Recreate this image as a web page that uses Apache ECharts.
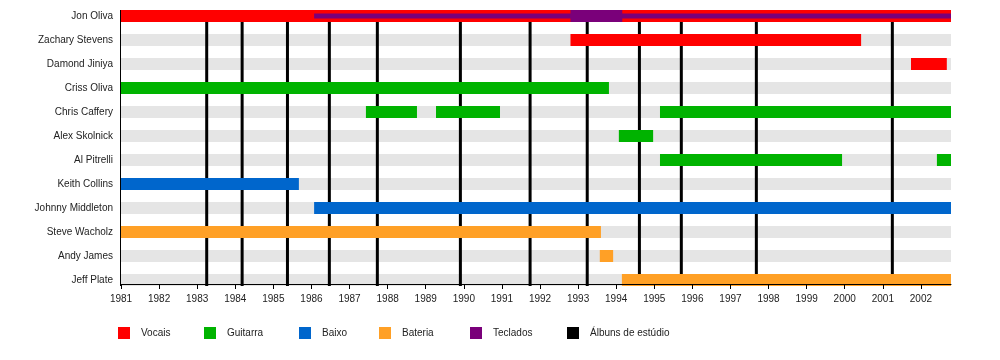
<!DOCTYPE html>
<html>
<head>
<meta charset="utf-8">
<script src="https://cdn.jsdelivr.net/npm/echarts@6/dist/echarts.min.js"></script>
<style>html,body{margin:0;padding:0;background:#fff}#c{width:1000px;height:360px}</style>
</head>
<body>
<div id="c"></div>
<script>
const members = ['Jon Oliva','Zachary Stevens','Damond Jiniya','Criss Oliva','Chris Caffery','Alex Skolnick','Al Pitrelli','Keith Collins','Johnny Middleton','Steve Wacholz','Andy James','Jeff Plate'];
const yearStart = 1981;
const yearEnd = 2002.79;
const yearTicks = [1981,1982,1983,1984,1985,1986,1987,1988,1989,1990,1991,1992,1993,1994,1995,1996,1997,1998,1999,2000,2001,2002];

const vocais = [['Jon Oliva',1981,2002.79],['Zachary Stevens',1992.8,2000.43],['Damond Jiniya',2001.74,2002.68]];
const guitarra = [['Criss Oliva',1981,1993.81],['Chris Caffery',1987.43,1988.77],['Chris Caffery',1989.27,1990.95],['Chris Caffery',1995.15,2002.79],['Alex Skolnick',1994.07,1994.97],['Al Pitrelli',1995.15,1999.93],['Al Pitrelli',2002.42,2002.79]];
const baixo = [['Keith Collins',1981,1985.67],['Johnny Middleton',1986.07,2002.79]];
const bateria = [['Steve Wacholz',1981,1993.6],['Andy James',1993.57,1993.92],['Jeff Plate',1994.15,2002.79]];
const tecladosApoio = [['Jon Oliva',1986.07,2002.79]];
const tecladosPrincipal = [['Jon Oliva',1992.8,1994.16]];
const albuns = [1983.25,1984.18,1985.37,1986.47,1987.73,1989.91,1991.74,1993.24,1994.61,1995.71,1997.68,2001.25];

const legendNames = ['Vocais','Guitarra','Baixo','Bateria','Teclados','Álbuns de estúdio'];
const legendLeft = [118,204,299,379,470,567];

const FONT = '"Liberation Sans", Arial, sans-serif';
const lastRow = members.length - 1;

function toRows(list) {
  return list.map(r => [members.indexOf(r[0]), r[1], r[2]]);
}
function barSeries(name, color, list, frac, zlevel) {
  return {
    type: 'custom', name: name, zlevel: zlevel, z: 2, clip: false,
    itemStyle: { color: color },
    encode: { x: [1, 2], y: 0 },
    data: toRows(list),
    renderItem: function (params, api) {
      const y = api.value(0);
      const a = api.coord([api.value(1), y]);
      const b = api.coord([api.value(2), y]);
      const h = api.size([0, 1])[1] * frac;
      return { type: 'rect', shape: { x: a[0], y: a[1] - h / 2, width: b[0] - a[0], height: h }, style: { fill: color } };
    }
  };
}

const series = [
  barSeries('', '#e5e5e5', members.map(m => [m, yearStart, yearEnd]), 0.5, 0),
  {
    type: 'custom', name: '', zlevel: 0, z: 3, clip: false,
    encode: { x: 0 },
    data: [[yearStart]],
    renderItem: function (params, api) {
      const band = api.size([0, 1])[1];
      const t = api.coord([api.value(0), 0]);
      const b = api.coord([api.value(0), lastRow]);
      const x = Math.round(t[0]) - 0.5;
      return { type: 'line', shape: { x1: x, y1: t[1] - band / 4, x2: x, y2: b[1] + band / 4 }, style: { stroke: '#000', lineWidth: 1 } };
    }
  },
  {
    type: 'custom', name: 'Álbuns de estúdio', zlevel: 0, z: 3, clip: false,
    itemStyle: { color: '#000' },
    encode: { x: 0 },
    data: albuns.map(v => [v]),
    renderItem: function (params, api) {
      const band = api.size([0, 1])[1];
      const t = api.coord([api.value(0), 0]);
      const b = api.coord([api.value(0), lastRow]);
      return { type: 'line', shape: { x1: t[0], y1: t[1], x2: b[0], y2: b[1] + band / 4 }, style: { stroke: '#000', lineWidth: 3 } };
    }
  },
  barSeries('Vocais', '#ff0000', vocais, 0.5, 1),
  barSeries('Guitarra', '#00b300', guitarra, 0.5, 1),
  barSeries('Baixo', '#0066cc', baixo, 0.5, 1),
  barSeries('Bateria', '#ffa026', bateria, 0.5, 1),
  barSeries('Teclados', '#7a007a', tecladosApoio, 5 / 24, 2),
  barSeries('Teclados', '#7a007a', tecladosPrincipal, 0.5, 2)
];

const legends = legendNames.map((n, i) => ({
  data: [n], left: legendLeft[i], top: 327, orient: 'horizontal',
  icon: 'rect', itemWidth: 12, itemHeight: 12, padding: 0, selectedMode: false,
  textStyle: { fontFamily: FONT, fontSize: 10, color: '#222', padding: [0, 0, 0, 6] }
}));

const chart = echarts.init(document.getElementById('c'), null, { renderer: 'canvas' });
chart.setOption({
  animation: false,
  backgroundColor: '#fff',
  grid: { left: 121, right: 49, top: 4, bottom: 68, containLabel: false },
  legend: legends,
  xAxis: {
    type: 'value', min: yearStart, max: yearEnd, interval: 1, offset: -8, zlevel: 3, z: 10,
    splitLine: { show: false },
    axisLine: { show: true, lineStyle: { color: '#000', width: 1 } },
    axisTick: { show: true, length: 5, lineStyle: { color: '#000' }, customValues: yearTicks },
    axisLabel: { show: true, margin: 10, color: '#222', fontFamily: FONT, fontSize: 10, customValues: yearTicks, formatter: v => String(v) }
  },
  yAxis: {
    type: 'category', data: members, inverse: true,
    axisLine: { show: false }, axisTick: { show: false }, splitLine: { show: false },
    axisLabel: { margin: 8, color: '#222', fontFamily: FONT, fontSize: 10 }
  },
  series: series
});
</script>
</body>
</html>
